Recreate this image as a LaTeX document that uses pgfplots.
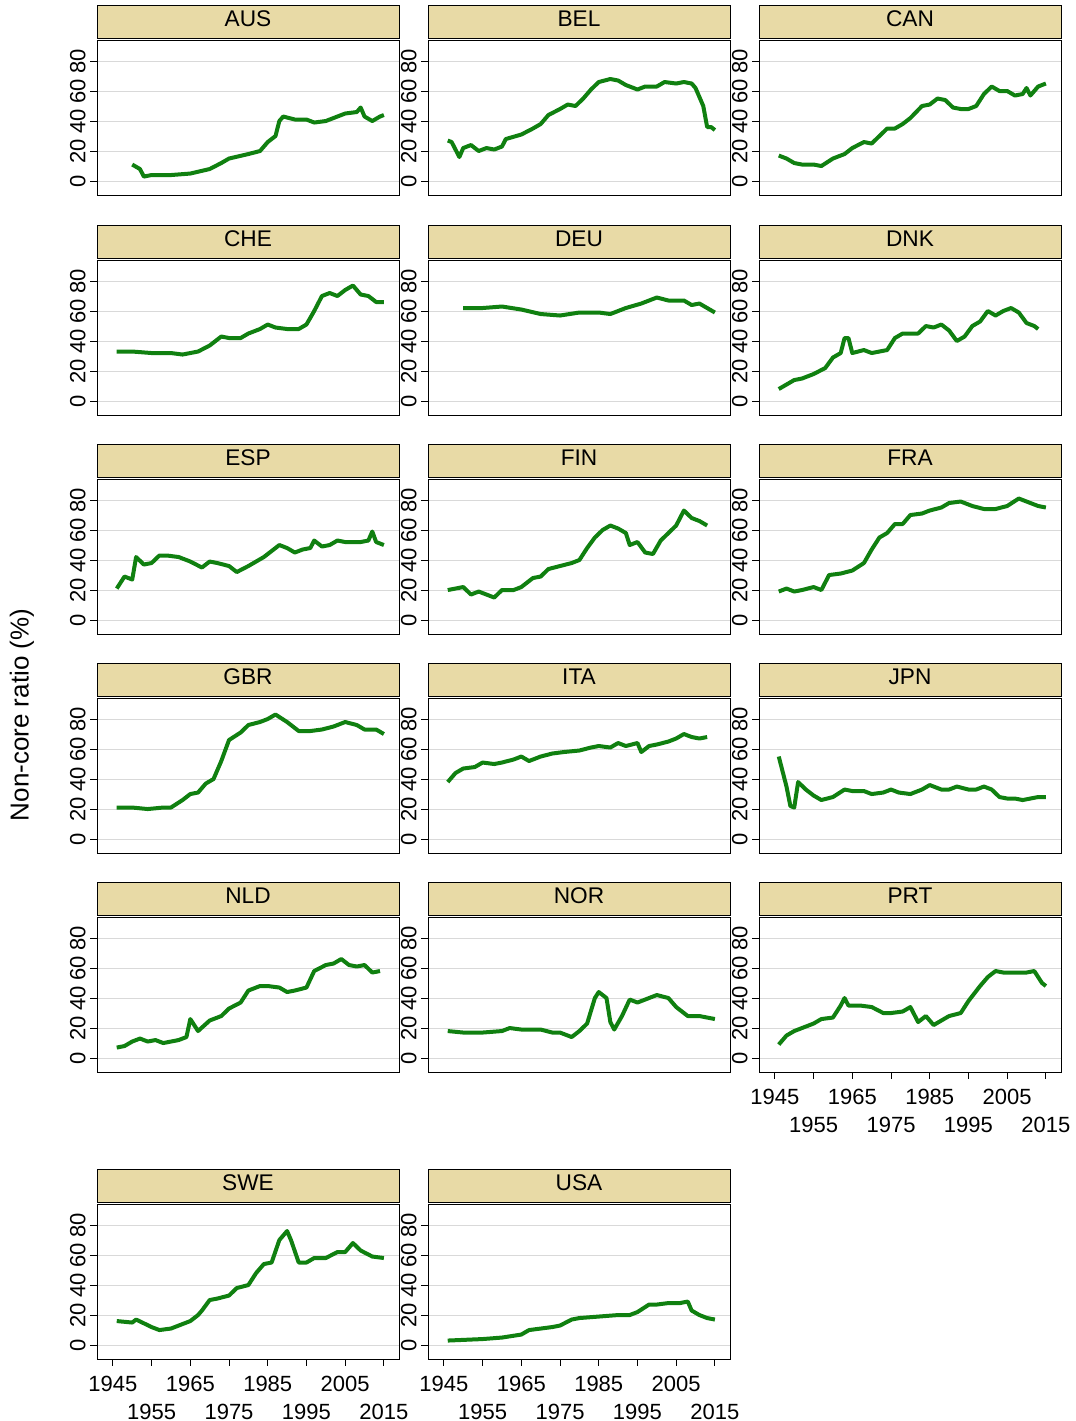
\documentclass[border=0pt]{standalone}
\usepackage{pgfplots}
\pgfplotsset{compat=1.18}
\usepackage{fontspec}
\setmainfont{Liberation Sans}
\definecolor{hdr}{RGB}{232,218,166}
\definecolor{lgreen}{RGB}{16,128,16}
\pgfplotsset{base/.style={width=226.5pt,height=116.25pt,scale only axis,
 xmin=1940.9,xmax=2018.9,ymin=-9.3,ymax=94,ytick={0,20,...,80},
 ymajorgrids,grid style={gray!30,line width=0.6pt},
 axis line style={black,line width=0.6pt},tick align=outside,ytick pos=left,
 major tick length=5pt, tick style={black,line width=0.6pt},
 xtick=\empty,
 /pgf/number format/assume math mode=true,/pgf/number format/1000 sep={},
 tick label style={font=\fontsize{16.5}{18}\selectfont},
 yticklabel style={rotate=90,anchor=south},
 xticklabel style={yshift=-4pt}},
 xt/.style={xtick={1945,1965,1985,2005},extra x ticks={1955,1975,1995,2015},
 extra x tick style={xticklabel style={yshift=-21pt}},xtick pos=bottom}}
\newcommand{\panel}[5]{%
 \draw[fill=hdr,line width=0.7pt] (#1,#2) rectangle ++(302,33);
 \node[font=\fontsize{17}{19}\selectfont] at ({#1+151},{#2+14}) {#3};
 \begin{axis}[base,at={({#1*0.75pt},{-(#2+190)*0.75pt})},anchor=south west,#4]
 \addplot[lgreen,line width=3pt,no markers,line join=round] coordinates {#5};
 \end{axis}}
\begin{document}
\begin{tikzpicture}[x=0.75pt,y=-0.75pt]
\useasboundingbox (0,0) rectangle (1075,1421);
\node[rotate=90,font=\fontsize{19.5}{22}\selectfont] at (22,715) {Non-core ratio (\%)};
\panel{97}{5}{AUS}{}{(1950,11)(1952,8)(1953,3)(1955,4)(1960,4)(1965,5)(1970,8)(1973,12)(1975,15)(1980,18)(1983,20)(1985,26)(1987,30)(1988,40)(1989,43)(1992,41)(1995,41)(1997,39)(2000,40)(2003,43)(2005,45)(2008,46)(2009,49)(2010,43)(2012,40)(2014,43)(2015,44)}
\panel{428}{5}{BEL}{}{(1946,27)(1947,26)(1949,16)(1950,22)(1952,24)(1954,20)(1956,22)(1958,21)(1960,23)(1961,28)(1965,31)(1968,35)(1970,38)(1972,44)(1975,48)(1977,51)(1979,50)(1981,55)(1983,61)(1985,66)(1988,68)(1990,67)(1992,64)(1995,61)(1997,63)(2000,63)(2002,66)(2005,65)(2007,66)(2009,65)(2010,62)(2011,56)(2012,50)(2013,36)(2014,36)(2015,34)}
\panel{759}{5}{CAN}{}{(1946,17)(1948,15)(1950,12)(1952,11)(1955,11)(1957,10)(1960,15)(1963,18)(1965,22)(1968,26)(1970,25)(1972,30)(1974,35)(1976,35)(1978,38)(1980,42)(1983,50)(1985,51)(1987,55)(1989,54)(1991,49)(1993,48)(1995,48)(1997,50)(1999,58)(2001,63)(2003,60)(2005,60)(2007,57)(2009,58)(2010,62)(2011,57)(2013,63)(2015,65)}
\panel{97}{225}{CHE}{}{(1946,33)(1950,33)(1955,32)(1960,32)(1963,31)(1967,33)(1970,37)(1973,43)(1975,42)(1978,42)(1980,45)(1983,48)(1985,51)(1987,49)(1990,48)(1993,48)(1995,51)(1997,60)(1999,70)(2001,72)(2003,70)(2005,74)(2007,77)(2009,71)(2011,70)(2013,66)(2015,66)}
\panel{428}{225}{DEU}{}{(1950,62)(1955,62)(1960,63)(1965,61)(1970,58)(1975,57)(1980,59)(1985,59)(1988,58)(1992,62)(1996,65)(2000,69)(2003,67)(2007,67)(2009,64)(2011,65)(2013,62)(2015,59)}
\panel{759}{225}{DNK}{}{(1946,8)(1948,11)(1950,14)(1952,15)(1955,18)(1958,22)(1960,29)(1962,32)(1963,42)(1964,42)(1965,32)(1968,34)(1970,32)(1972,33)(1974,34)(1976,42)(1978,45)(1980,45)(1982,45)(1984,50)(1986,49)(1988,51)(1990,47)(1992,40)(1994,43)(1996,50)(1998,53)(2000,60)(2002,57)(2004,60)(2006,62)(2008,59)(2010,52)(2012,50)(2013,48)}
\panel{97}{444}{ESP}{}{(1946,21)(1948,29)(1950,27)(1951,42)(1953,37)(1955,38)(1957,43)(1959,43)(1962,42)(1965,39)(1968,35)(1970,39)(1972,38)(1975,36)(1977,32)(1980,36)(1982,39)(1984,42)(1986,46)(1988,50)(1990,48)(1992,45)(1994,47)(1996,48)(1997,53)(1999,49)(2001,50)(2003,53)(2005,52)(2007,52)(2009,52)(2011,53)(2012,59)(2013,52)(2015,50)}
\panel{428}{444}{FIN}{}{(1946,20)(1948,21)(1950,22)(1952,17)(1954,19)(1956,17)(1958,15)(1960,20)(1963,20)(1965,22)(1968,28)(1970,29)(1972,34)(1975,36)(1978,38)(1980,40)(1982,48)(1984,55)(1986,60)(1988,63)(1990,61)(1992,58)(1993,50)(1995,52)(1997,45)(1999,44)(2001,53)(2003,58)(2005,63)(2007,73)(2009,68)(2011,66)(2013,63)}
\panel{759}{444}{FRA}{}{(1946,19)(1948,21)(1950,19)(1952,20)(1955,22)(1957,20)(1959,30)(1962,31)(1965,33)(1968,38)(1970,47)(1972,55)(1974,58)(1976,64)(1978,64)(1980,70)(1983,71)(1985,73)(1988,75)(1990,78)(1993,79)(1996,76)(1999,74)(2002,74)(2005,76)(2008,81)(2010,79)(2013,76)(2015,75)}
\panel{97}{663}{GBR}{}{(1946,21)(1950,21)(1954,20)(1958,21)(1960,21)(1963,26)(1965,30)(1967,31)(1969,37)(1971,40)(1973,52)(1975,66)(1978,71)(1980,76)(1983,78)(1985,80)(1987,83)(1990,78)(1993,72)(1996,72)(1999,73)(2002,75)(2005,78)(2008,76)(2010,73)(2013,73)(2015,70)}
\panel{428}{663}{ITA}{}{(1946,38)(1948,44)(1950,47)(1953,48)(1955,51)(1958,50)(1960,51)(1963,53)(1965,55)(1967,52)(1970,55)(1973,57)(1976,58)(1980,59)(1983,61)(1985,62)(1988,61)(1990,64)(1992,62)(1995,64)(1996,58)(1998,62)(2000,63)(2003,65)(2005,67)(2007,70)(2009,68)(2011,67)(2013,68)}
\panel{759}{663}{JPN}{}{(1946,55)(1948,35)(1949,22)(1950,21)(1951,38)(1953,33)(1955,29)(1957,26)(1960,28)(1963,33)(1965,32)(1968,32)(1970,30)(1973,31)(1975,33)(1977,31)(1980,30)(1983,33)(1985,36)(1988,33)(1990,33)(1992,35)(1995,33)(1997,33)(1999,35)(2001,33)(2003,28)(2005,27)(2007,27)(2009,26)(2011,27)(2013,28)(2015,28)}
\panel{97}{882}{NLD}{}{(1946,7)(1948,8)(1950,11)(1952,13)(1954,11)(1956,12)(1958,10)(1960,11)(1962,12)(1964,14)(1965,26)(1967,18)(1970,25)(1973,28)(1975,33)(1978,37)(1980,45)(1983,48)(1985,48)(1988,47)(1990,44)(1992,45)(1995,47)(1997,58)(2000,62)(2002,63)(2004,66)(2006,62)(2008,61)(2010,62)(2012,57)(2014,58)}
\panel{428}{882}{NOR}{}{(1946,18)(1950,17)(1955,17)(1960,18)(1962,20)(1965,19)(1970,19)(1973,17)(1975,17)(1978,14)(1980,18)(1982,23)(1984,40)(1985,44)(1987,40)(1988,24)(1989,19)(1991,28)(1993,39)(1995,37)(1998,40)(2000,42)(2003,40)(2005,34)(2008,28)(2011,28)(2015,26)}
\panel{759}{882}{PRT}{xt}{(1946,9)(1948,15)(1950,18)(1953,21)(1955,23)(1957,26)(1960,27)(1962,35)(1963,40)(1964,35)(1967,35)(1970,34)(1973,30)(1975,30)(1978,31)(1980,34)(1982,24)(1984,28)(1986,22)(1988,25)(1990,28)(1993,30)(1995,38)(1998,48)(2000,54)(2002,58)(2004,57)(2006,57)(2008,57)(2010,57)(2012,58)(2014,50)(2015,48)}
\panel{97}{1169}{SWE}{xt}{(1946,16)(1950,15)(1951,17)(1955,12)(1957,10)(1960,11)(1963,14)(1965,16)(1967,20)(1968,23)(1970,30)(1972,31)(1975,33)(1977,38)(1980,40)(1982,48)(1984,54)(1986,55)(1988,70)(1990,76)(1991,70)(1993,55)(1995,55)(1997,58)(2000,58)(2003,62)(2005,62)(2007,68)(2009,63)(2012,59)(2015,58)}
\panel{428}{1169}{USA}{xt}{(1946,3)(1955,4)(1960,5)(1965,7)(1967,10)(1970,11)(1973,12)(1975,13)(1978,17)(1980,18)(1985,19)(1990,20)(1993,20)(1995,22)(1998,27)(2000,27)(2003,28)(2006,28)(2008,29)(2009,23)(2011,20)(2013,18)(2015,17)}
\end{tikzpicture}
\end{document}
